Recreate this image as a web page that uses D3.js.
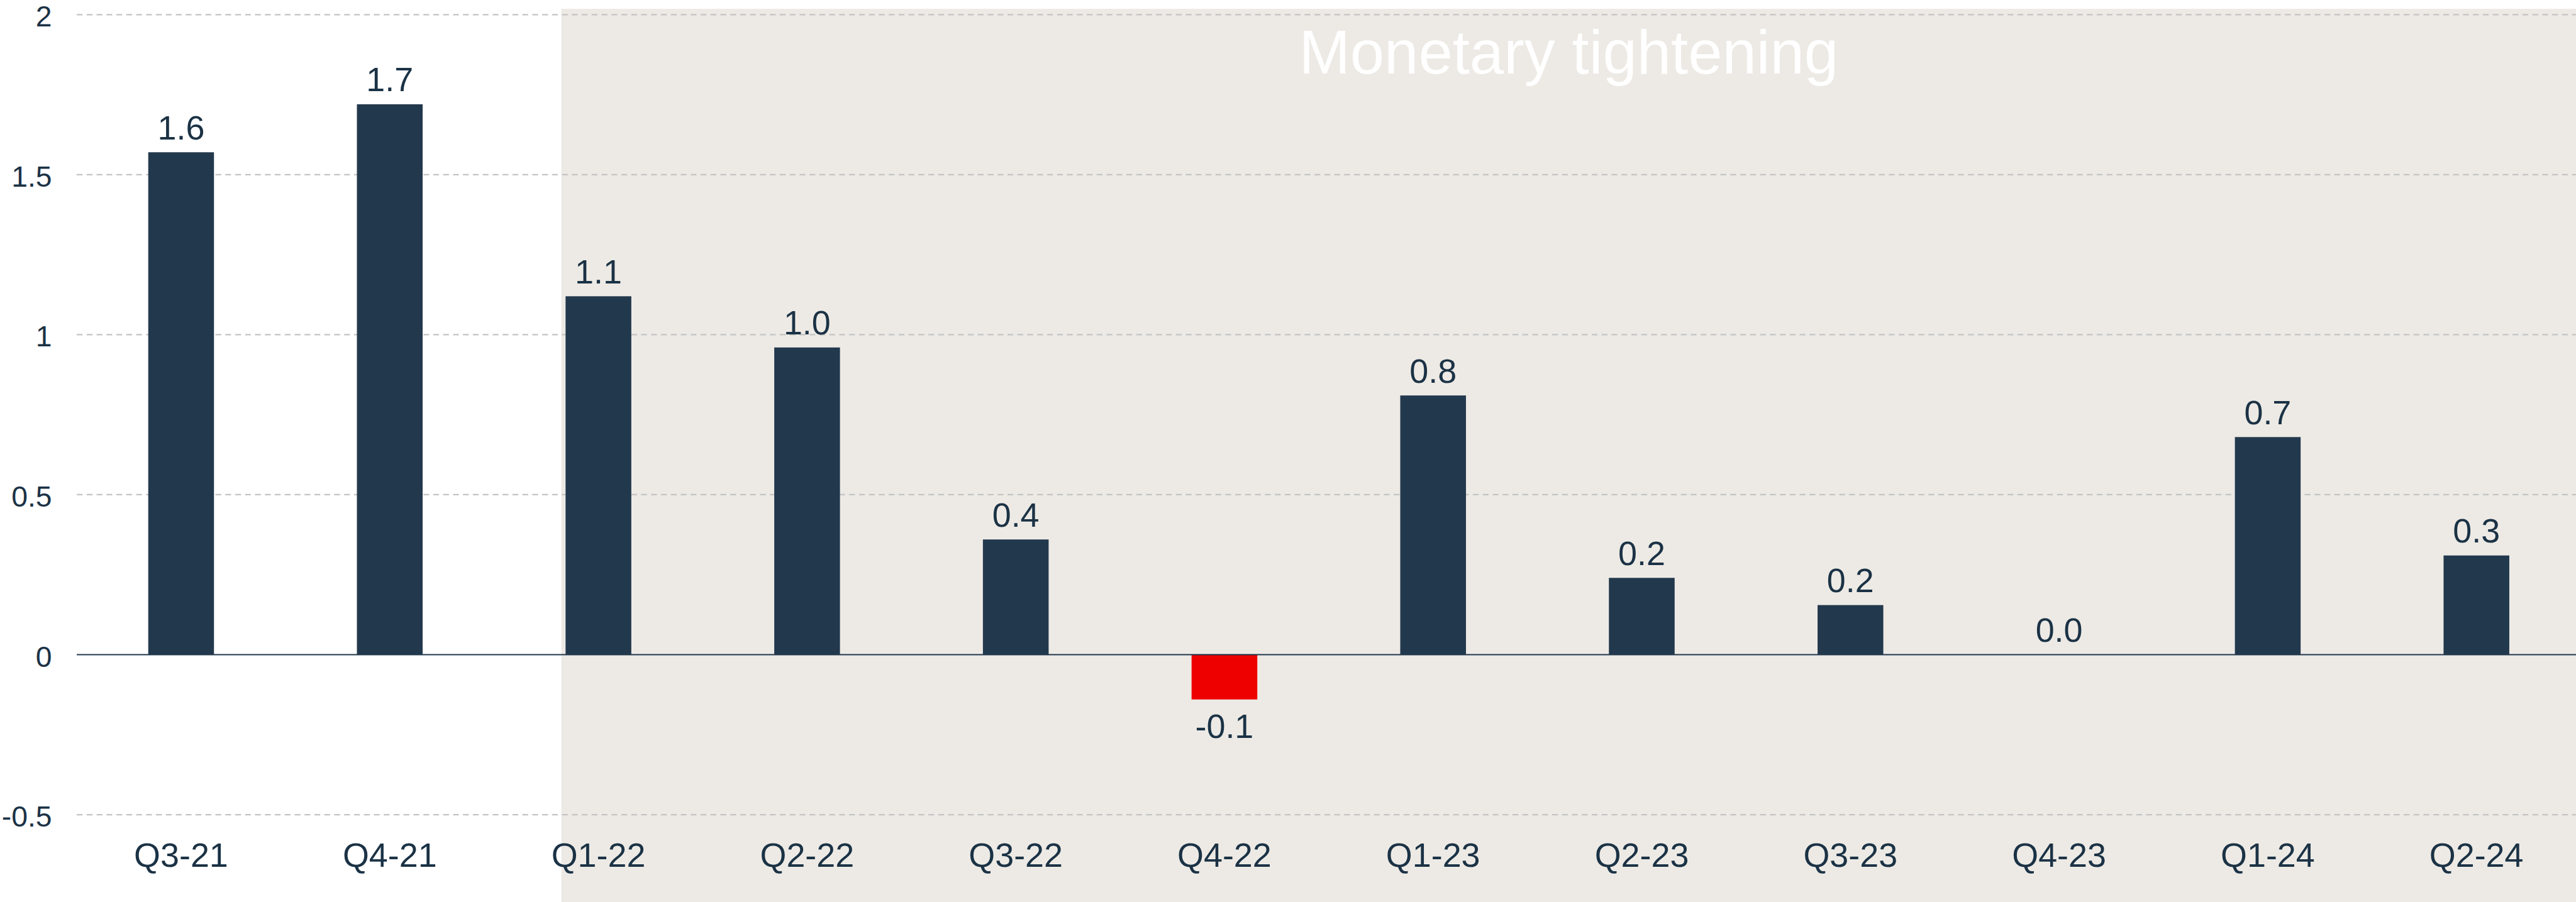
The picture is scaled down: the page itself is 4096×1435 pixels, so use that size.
<!DOCTYPE html>
<html>
<head>
<meta charset="utf-8">
<script src="https://cdnjs.cloudflare.com/ajax/libs/d3/7.8.5/d3.min.js"></script>
<style>
  html, body { margin: 0; padding: 0; background: #ffffff; }
  svg { display: block; }
  text { font-family: "Liberation Sans", Arial, sans-serif; }
</style>
</head>
<body>
<div class="chart"></div>
<script>
// quarters and GDP growth (q/q, %)
var quarters = ["Q3-21", "Q4-21", "Q1-22", "Q2-22", "Q3-22", "Q4-22", "Q1-23", "Q2-23", "Q3-23", "Q4-23", "Q1-24", "Q2-24"];
var growth = [1.57, 1.72, 1.12, 0.96, 0.36, -0.14, 0.81, 0.24, 0.155, 0, 0.68, 0.31];
var yTicks = [-0.5, 0, 0.5, 1, 1.5, 2];
var shadeFrom = "Q1-22";
var shadeLabel = "Monetary tightening";

var width = 4096, height = 1435;
var k = width / 4865; // reference was drawn at 4865 wide

var svg = d3.select(".chart")
  .append("svg")
  .attr("width", width)
  .attr("height", height);

var x = d3.scaleBand()
  .domain(quarters)
  .range([145 * k, 4874 * k])
  .padding(0);

var barW = x.bandwidth() * 0.315;

var y = d3.scaleLinear()
  .domain([-0.5, 2])
  .range([1539.4 * k, 27.7 * k]);

var navy = "#22384d", textCol = "#1b3245";

// shaded tightening period
var shadeX = x(shadeFrom) + x.bandwidth() / 2 - barW / 2 - 8 * k;
svg.append("rect")
  .attr("x", shadeX)
  .attr("y", 16.7 * k)
  .attr("width", width - shadeX)
  .attr("height", height - 16.7 * k)
  .attr("fill", "#edeae5");

svg.append("text")
  .attr("x", (shadeX + width) / 2)
  .attr("y", 139.3 * k)
  .attr("text-anchor", "middle")
  .attr("fill", "#ffffff")
  .style("font-size", (116 * k) + "px")
  .text(shadeLabel);

// grid lines (zero gets a solid line later)
svg.append("g").selectAll("line")
  .data(yTicks.filter(d => d != 0))
  .enter().append("line")
  .attr("x1", 145 * k)
  .attr("x2", width)
  .attr("y1", d => y(d))
  .attr("y2", d => y(d))
  .attr("stroke", "#c4c4c4")
  .attr("stroke-width", 2.7 * k)
  .attr("stroke-dasharray", (11 * k) + "," + (7.7 * k));

// y axis labels
var yAxis = d3.axisLeft(y).tickValues(yTicks).tickSize(0).tickPadding(0)
  .tickFormat(d => d);
svg.append("g")
  .attr("transform", "translate(" + (98 * k) + ",0)")
  .call(yAxis)
  .call(g => g.select(".domain").remove())
  .selectAll("text")
  .attr("fill", textCol)
  .style("font-size", (55 * k) + "px")
  .attr("dy", "0.4em");

// bars
svg.append("g").selectAll("rect")
  .data(growth)
  .enter().append("rect")
  .attr("x", (d, i) => x(quarters[i]) + x.bandwidth() / 2 - barW / 2)
  .attr("y", d => y(Math.max(0, d)))
  .attr("width", barW)
  .attr("height", d => Math.abs(y(d) - y(0)))
  .attr("fill", d => d < 0 ? "#ee0000" : navy);

// zero line
svg.append("line")
  .attr("x1", 145 * k)
  .attr("x2", width)
  .attr("y1", y(0))
  .attr("y2", y(0))
  .attr("stroke", navy)
  .attr("stroke-width", 2.5 * k);

// value labels
svg.append("g").selectAll("text")
  .data(growth)
  .enter().append("text")
  .attr("x", (d, i) => x(quarters[i]) + x.bandwidth() / 2)
  .attr("y", d => d < 0 ? y(d) + 73 * k : y(d) - 24.4 * k)
  .attr("text-anchor", "middle")
  .attr("fill", textCol)
  .style("font-size", (64 * k) + "px")
  .text(d => d.toFixed(1));

// x axis labels
var xAxis = d3.axisBottom(x).tickSize(0).tickPadding(0);
svg.append("g")
  .attr("transform", "translate(0," + (1638.3 * k) + ")")
  .call(xAxis)
  .call(g => g.select(".domain").remove())
  .selectAll("text")
  .attr("fill", textCol)
  .attr("y", 0)
  .attr("dy", 0)
  .style("font-size", (64 * k) + "px");
</script>
</body>
</html>
